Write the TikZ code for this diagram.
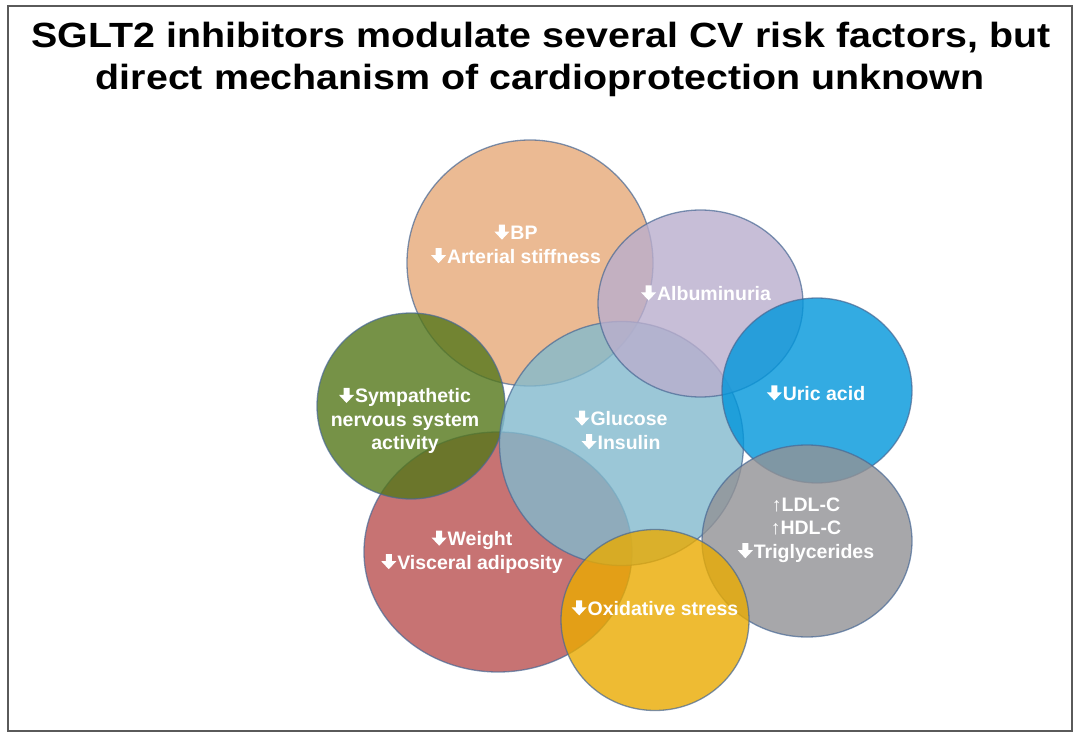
\documentclass[tikz,border=0pt]{standalone}
\usepackage{fontspec}
\setmainfont{Liberation Sans}
\usepackage{graphicx}
\definecolor{edgec}{RGB}{72,104,148}
\definecolor{framec}{RGB}{90,90,90}
\definecolor{cOr}{RGB}{230,169,121}
\definecolor{cAl}{RGB}{186,174,205}
\definecolor{cUr}{RGB}{0,150,219}
\definecolor{cGr}{RGB}{84,119,26}
\definecolor{cGl}{RGB}{130,186,205}
\definecolor{cRe}{RGB}{186,80,80}
\definecolor{cYe}{RGB}{234,171,0}
\definecolor{cGy}{RGB}{146,146,149}
\newcommand\dnarr{\tikz[x=1pt,y=1pt,baseline=0pt]\fill[white] (-3,15) -- (3,15) -- (3,8) -- (7.5,8) -- (0,0) -- (-7.5,8) -- (-3,8) -- cycle;\hspace{1pt}}
\newcommand\uparr{{\mdseries\char"2191}}
\begin{document}
\begin{tikzpicture}[x=1pt,y=-1pt,
  bub/.style={draw=edgec, line width=1.3pt, fill opacity=0.8, draw opacity=0.7},
  lab/.style={text=white, font=\bfseries\fontsize{19.5}{23.5}\selectfont, align=center, inner sep=0pt},
  ttl/.style={font=\bfseries\fontsize{35}{42}\selectfont, anchor=base, inner sep=0pt}]
\useasboundingbox (0,0) rectangle (1080,738);
\fill[white] (0,0) rectangle (1080,738);
\draw[framec, line width=1.6pt] (8,6) rectangle (1072,731);
% title
\node[ttl] (t1) at (541,48) {\scalebox{1.125}[1]{SGLT2 inhibitors modulate several CV risk factors, but}};
\node[ttl] (t2) at (540,90) {\scalebox{1.125}[1]{direct mechanism of cardioprotection unknown}};
% bubbles (bottom to top)
\path[bub, fill=cOr] (530,263) ellipse [x radius=123, y radius=123];
\path[bub, fill=cRe] (498,552) ellipse [x radius=134, y radius=120];
\path[bub, fill=cGr] (411,406) ellipse [x radius=94, y radius=93];
\path[bub, fill=cGl] (621.5,443.5) ellipse [x radius=122, y radius=122];
\path[bub, fill=cAl] (700.5,303.5) ellipse [x radius=102.5, y radius=93.5];
\path[bub, fill=cUr] (817,390.5) ellipse [x radius=95, y radius=92.5];
\path[bub, fill=cGy] (807,541) ellipse [x radius=105, y radius=96];
\path[bub, fill=cYe] (655,620) ellipse [x radius=94, y radius=90.5];
% labels
\node[lab] (bp) at (516,244) {\dnarr BP\\\dnarr Arterial stiffness};
\node[lab] (alb) at (706,293) {\dnarr Albuminuria};
\node[lab] (uric) at (816,393) {\dnarr Uric acid};
\node[lab] (sym) at (405,421) {\dnarr Sympathetic\\nervous system\\activity};
\node[lab] (glu) at (621,430) {\dnarr Glucose\\\dnarr Insulin};
\node[lab] (lip) at (806,530) {\uparr LDL-C\\\uparr HDL-C\\\dnarr Triglycerides};
\node[lab] (wt) at (472,552) {\dnarr Weight\\\dnarr Visceral adiposity};
\node[lab] (ox) at (655,608) {\dnarr Oxidative stress};
\end{tikzpicture}
\end{document}
